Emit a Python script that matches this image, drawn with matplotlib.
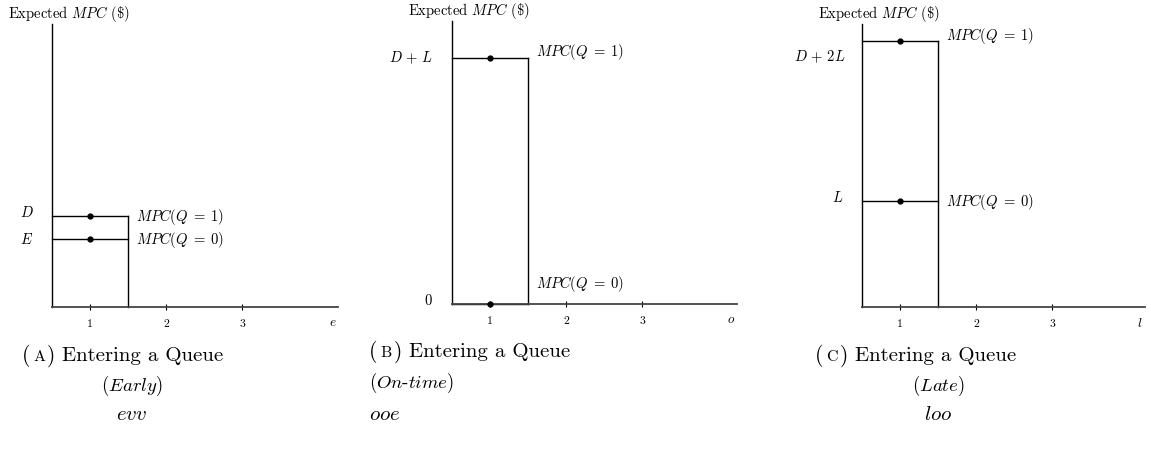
import matplotlib
matplotlib.use("Agg")
import matplotlib.pyplot as plt

plt.rcParams['mathtext.fontset'] = 'cm'
plt.rcParams['font.family'] = ['cmr10', 'DejaVu Serif']
plt.rcParams['axes.formatter.use_mathtext'] = True

W, H = 1151, 464

# ---- data (arbitrary units; y range 0..10) ----
panels = ['A', 'B', 'C']
mpc_q1 = [3.2, 8.7, 9.4]
mpc_q0 = [2.4, 0.0, 3.75]
x_ticks = [1, 2, 3]
x_tick_labels = ['1', '2', '3']
x_axis_names = ['e', 'o', 'l']
y_labels_q1 = [r'$D$', r'$D\,+\,L$', r'$D\,+\,2L$']
y_labels_q0 = [r'$E$', r'$0$', r'$L$']
titles = ['Early', 'On\\text{-}time', 'Late']
codes = ['evv', 'ooe', 'loo']

# ---- layout (pixels) ----
ax_left = [52, 452, 862]
ax_bottom = [308, 305, 308]
ax_right = [338, 737, 1145]
ax_top = [25, 22, 25]
ylbl_pos_q1 = [(27, 213), (411, 58), (820, 57)]
ylbl_pos_q0 = [(27, 240), (428, 301), (838, 198)]
mpc1_off = [0, 5, 4]
mpc0_off = [0, 15, 0]

fig = plt.figure(figsize=(W / 100, H / 100), dpi=100)


def fx(px):
    return px / W


def fy(py):
    return 1 - py / H


MPC1 = r'$MPC(Q\;=\;1)$'
MPC0 = r'$MPC(Q\;=\;0)$'

for i in range(3):
    l, b, r, t = ax_left[i], ax_bottom[i], ax_right[i], ax_top[i]
    ax = fig.add_axes([fx(l), fy(b), fx(r - l), (b - t) / H])
    ax.set_xlim(0.5, 0.5 + (r - l) / 76.0)
    ax.set_ylim(0, 10)
    for s in ['top', 'right']:
        ax.spines[s].set_visible(False)
    ax.spines['left'].set_linewidth(1.0)
    ax.spines['bottom'].set_linewidth(1.3)
    ax.spines['bottom'].set_color('#444444')
    ax.set_xticks(x_ticks)
    ax.set_xticklabels(x_tick_labels)
    ax.set_yticks([])
    ax.tick_params(axis='x', direction='inout', length=5, width=0.8,
                   labelsize=8.5, pad=6)

    top_v = max(mpc_q1[i], mpc_q0[i])
    ax.plot([0.5, 1.5], [mpc_q1[i], mpc_q1[i]], color='black', lw=1.0,
            clip_on=False)
    ax.plot([0.5, 1.5], [mpc_q0[i], mpc_q0[i]], color='black', lw=1.0,
            clip_on=False)
    ax.plot([1.5, 1.5], [0, top_v], color='black', lw=1.0, clip_on=False)
    ax.plot([1, 1], [mpc_q1[i], mpc_q0[i]], 'o', color='black', ms=3.5,
            clip_on=False, zorder=5)

    ax.annotate(MPC1, xy=(1.5, mpc_q1[i]), xytext=(6, mpc1_off[i]),
                textcoords='offset points', ha='left', va='center', fontsize=10.5)
    ax.annotate(MPC0, xy=(1.5, mpc_q0[i]), xytext=(6, mpc0_off[i]),
                textcoords='offset points', ha='left', va='center', fontsize=10.5)

    ax.annotate(r'$%s$' % x_axis_names[i], xy=(1, 0), xycoords='axes fraction',
                xytext=(-4, -11), textcoords='offset points', ha='center',
                va='center', fontsize=9.5)

    xq, yq = ylbl_pos_q1[i]
    fig.text(fx(xq), fy(yq), y_labels_q1[i], ha='center', va='center', fontsize=10.5)
    xq, yq = ylbl_pos_q0[i]
    fig.text(fx(xq), fy(yq), y_labels_q0[i], ha='center', va='center', fontsize=10.5)

    fig.text(fx(l - 44), fy(t - 11), r'Expected $MPC$ (\$)', ha='left',
             va='center', fontsize=10.5)

# ---- captions ----
cap_paren_x = [22, 369, 815]
cap_y = [356, 352, 356]
sub_center = [132, None, 938]
for i in range(3):
    x0 = cap_paren_x[i]
    y0 = cap_y[i]
    fig.text(fx(x0), fy(y0), '(', ha='left', va='center', fontsize=15.5)
    fig.text(fx(x0 + 17), fy(y0 + 1), panels[i], ha='center', va='center', fontsize=11.5)
    fig.text(fx(x0 + 25), fy(y0), ')', ha='left', va='center', fontsize=15.5)
    fig.text(fx(x0 + 40), fy(y0), 'Entering a Queue', ha='left', va='center',
             fontsize=15)
    if sub_center[i] is None:
        fig.text(fx(x0), fy(y0 + 31), r'$(\mathit{%s})$' % titles[i],
                 ha='left', va='center', fontsize=13.5)
        fig.text(fx(x0), fy(y0 + 63), r'$%s$' % codes[i], ha='left', va='center',
                 fontsize=15)
    else:
        fig.text(fx(sub_center[i]), fy(386), r'$(\mathit{%s})$' % titles[i],
                 ha='center', va='center', fontsize=13.5)
        fig.text(fx(sub_center[i]), fy(415), r'$%s$' % codes[i], ha='center',
                 va='center', fontsize=15)

fig.savefig('out.png', dpi=100)
